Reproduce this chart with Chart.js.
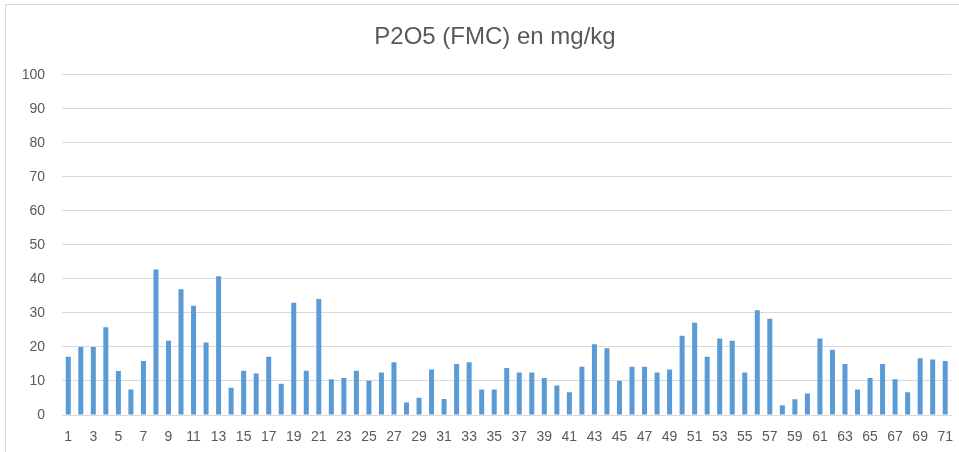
<!DOCTYPE html>
<html>
<head>
<meta charset="utf-8">
<script src="https://cdn.jsdelivr.net/npm/chart.js@4"></script>
<style>
  body { margin: 0; background: #fff; }
  #wrap { position: relative; width: 959px; height: 452px; }
  #frame { position: absolute; left: 5px; top: 4px; width: 960px; height: 460px; border: 1px solid #d9d9d9; }
</style>
</head>
<body>
<div id="wrap">
  <div id="frame"></div>
  <canvas id="p2o5Chart" width="959" height="452"></canvas>
</div>
<script>
// sample numbers 1..71
var labels = [];
for (var i = 1; i <= 71; i++) labels.push(String(i));

// P2O5 values
var p2o5 = [
  17.1, 20.0, 20.0, 25.8, 12.9, 7.5, 15.9, 42.8, 21.8, 37.0,
  32.1, 21.3, 40.8, 8.0, 13.0, 12.2, 17.1, 9.2, 33.0, 13.0,
  34.1, 10.5, 10.9, 13.0, 10.1, 12.5, 15.5, 3.7, 5.1, 13.4,
  4.7, 15.0, 15.5, 7.5, 7.5, 13.8, 12.5, 12.5, 10.9, 8.7,
  6.7, 14.2, 20.8, 19.6, 10.1, 14.2, 14.2, 12.5, 13.4, 23.3,
  27.1, 17.1, 22.5, 21.8, 12.5, 30.8, 28.3, 2.9, 4.6, 6.3,
  22.5, 19.2, 15.0, 7.5, 10.9, 15.0, 10.5, 6.7, 16.7, 16.3,
  15.9
];

var yTicks = [0, 10, 20, 30, 40, 50, 60, 70, 80, 90, 100];

var textColor = '#595959';
var gridColor = '#d9d9d9';

// nudge the title a little to the right, like the original
var titleShift = {
  id: 'titleShift',
  afterLayout: function (chart) {
    chart.titleBlock.left += 16;
  }
};

var ctx = document.getElementById('p2o5Chart');
var chart = new Chart(ctx, {
  type: 'bar',
  data: {
    labels: labels,
    datasets: [{
      data: p2o5,
      backgroundColor: '#5B9BD5',
      borderWidth: 0,
      barPercentage: 0.4,
      categoryPercentage: 1
    }]
  },
  plugins: [titleShift],
  options: {
    responsive: false,
    animation: false,
    layout: { padding: { left: 17, right: 2, top: 0, bottom: 0 } },
    plugins: {
      legend: { display: false },
      tooltip: { enabled: false },
      title: {
        display: true,
        text: 'P2O5 (FMC) en mg/kg',
        color: textColor,
        font: { family: 'Liberation Sans', size: 24, weight: 'normal' },
        padding: { top: 23, bottom: 23 }
      }
    },
    scales: {
      x: {
        grid: { display: true, drawOnChartArea: false, drawTicks: true, tickLength: 8, color: 'rgba(0,0,0,0)' },
        border: { color: gridColor },
        ticks: {
          color: textColor,
          font: { family: 'Liberation Sans', size: 14 },
          autoSkip: false,
          maxRotation: 0,
          padding: 6,
          callback: function (v, idx) { return idx % 2 === 0 ? labels[idx] : ''; }
        },
        afterFit: function (scale) { scale.height = 37; }
      },
      y: {
        min: 0,
        max: 100,
        afterBuildTicks: function (scale) {
          scale.ticks = yTicks.map(function (v) { return { value: v }; });
        },
        grid: { color: gridColor, drawTicks: false },
        border: { display: false },
        ticks: {
          color: textColor,
          font: { family: 'Liberation Sans', size: 14 },
          padding: 17
        },
        afterFit: function (scale) { scale.width = 45; }
      }
    }
  }
});
</script>
</body>
</html>
